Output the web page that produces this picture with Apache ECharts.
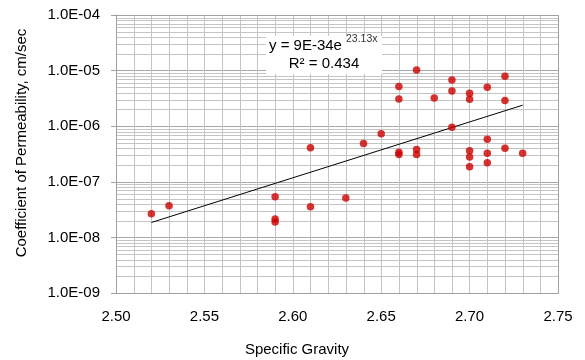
<!DOCTYPE html>
<html>
<head>
<meta charset="utf-8">
<script src="https://cdn.jsdelivr.net/npm/echarts@6/dist/echarts.min.js"></script>
<style>
  html, body { margin: 0; padding: 0; background: #fff; }
  #chart { width: 585px; height: 360px; }
</style>
</head>
<body>
<div id="chart"></div>
<script>
// Specific gravity of each sample and its measured coefficient of permeability (cm/sec)
const specificGravity = [
  2.52, 2.53,
  2.59, 2.59, 2.59,
  2.61, 2.61,
  2.63, 2.64, 2.65,
  2.66, 2.66, 2.66, 2.66,
  2.67, 2.67, 2.67,
  2.68,
  2.69, 2.69, 2.69,
  2.70, 2.70, 2.70, 2.70, 2.70,
  2.71, 2.71, 2.71, 2.71,
  2.72, 2.72, 2.72,
  2.73
];
const permeability = [
  2.65e-8, 3.7e-8,
  5.4e-8, 2.15e-8, 1.9e-8,
  3.55e-8, 4.1e-7,
  5.1e-8, 4.9e-7, 7.3e-7,
  5.2e-6, 3.1e-6, 3.4e-7, 3.1e-7,
  1.03e-5, 3.8e-7, 3.1e-7,
  3.2e-6,
  6.8e-6, 4.3e-6, 9.6e-7,
  3.9e-6, 3.05e-6, 3.6e-7, 2.8e-7, 1.87e-7,
  5.0e-6, 5.8e-7, 3.25e-7, 2.2e-7,
  7.9e-6, 2.9e-6, 4.0e-7,
  3.25e-7
];

// Exponential trendline y = A * e^(B x) and its fit statistic
const trendA = 9e-34;
const trendB = 23.13;
const trendR2 = 0.434;
const trendRange = [2.52, 2.73];

// Axis ranges: labels every 0.05, gridlines every 0.01
const xRange = [2.50, 2.75];
const xLabelStep = 0.05;
const xGridStep = 0.01;
const yRange = [1e-9, 1e-4];
// Log minor gridlines: multiples 2..9 within each decade
const minorMultiples = [2, 3, 4, 5, 6, 7, 8, 9];
const gridDecades = [-9, -8, -7, -6, -5];

const FONT = "'Liberation Sans', Arial, sans-serif";
const GRID_COLOR = '#c4c4c4';
const BORDER_COLOR = '#a0a0a0';

function sciLabel(v) {
  const e = Math.round(Math.log10(v));
  const m = v / Math.pow(10, e);
  const abs = Math.abs(e);
  return m.toFixed(1) + 'E' + (e < 0 ? '-' : '+') + (abs < 10 ? '0' + abs : '' + abs);
}
function shortExp(v) {
  const e = Math.floor(Math.log10(v));
  const m = Math.round(v / Math.pow(10, e));
  return m + 'E' + e;
}

const points = specificGravity.map((x, i) => [x, permeability[i]]);
const trendPoints = trendRange.map(x => [x, trendA * Math.exp(trendB * x)]);

// Minor gridline positions in data units
const xGridLines = [];
const xSteps = Math.round((xRange[1] - xRange[0]) / xGridStep);
for (let i = 1; i < xSteps; i++) {
  if (i % Math.round(xLabelStep / xGridStep) !== 0) {
    xGridLines.push(+(xRange[0] + i * xGridStep).toFixed(2));
  }
}
const yGridLines = [];
gridDecades.forEach(e => {
  minorMultiples.forEach(m => {
    yGridLines.push(m * Math.pow(10, e));
  });
});

// Equation box and axis titles
const labels = [
  {
    type: 'rect', z: 100,
    shape: { x: 266, y: 36, width: 116, height: 38 },
    style: { fill: '#fff' }
  },
  {
    type: 'text', z: 101, x: 269, y: 46,
    style: {
      text: 'y = ' + shortExp(trendA) + 'e',
      fontSize: 15, fontFamily: FONT, fill: '#000',
      align: 'left', verticalAlign: 'middle'
    }
  },
  {
    type: 'text', z: 101, x: 346, y: 39,
    style: {
      text: trendB.toFixed(2) + 'x',
      fontSize: 10.5, fontFamily: FONT, fill: '#333',
      align: 'left', verticalAlign: 'middle'
    }
  },
  {
    type: 'text', z: 101, x: 324, y: 64,
    style: {
      text: 'R² = ' + trendR2.toFixed(3),
      fontSize: 15, fontFamily: FONT, fill: '#000',
      align: 'center', verticalAlign: 'middle'
    }
  },
  {
    type: 'text', z: 101, x: 297, y: 350,
    style: {
      text: 'Specific Gravity',
      fontSize: 15, fontFamily: FONT, fill: '#000',
      align: 'center', verticalAlign: 'middle'
    }
  },
  {
    type: 'text', z: 101, x: 22, y: 143,
    rotation: Math.PI / 2,
    style: {
      text: 'Coefficient of Permeability, cm/sec',
      fontSize: 15, fontFamily: FONT, fill: '#000',
      align: 'center', verticalAlign: 'middle'
    }
  }
];

const chart = echarts.init(document.getElementById('chart'), null, { renderer: 'canvas' });

chart.setOption({
  animation: false,
  backgroundColor: '#fff',
  textStyle: { fontFamily: FONT },
  grid: { left: 116, right: 27, top: 15, bottom: 67, show: false },
  xAxis: {
    type: 'value',
    min: xRange[0], max: xRange[1], interval: xLabelStep,
    axisLine: { show: true, lineStyle: { color: BORDER_COLOR } },
    axisTick: { show: false },
    axisLabel: {
      fontSize: 15, color: '#000', margin: 16, fontFamily: FONT,
      formatter: v => v.toFixed(2)
    },
    splitLine: { show: true, lineStyle: { color: GRID_COLOR, width: 1 } }
  },
  yAxis: {
    type: 'log', logBase: 10,
    min: yRange[0], max: yRange[1],
    axisLine: { show: true, lineStyle: { color: BORDER_COLOR } },
    axisTick: { show: true, length: 5, lineStyle: { color: BORDER_COLOR } },
    axisLabel: {
      fontSize: 15, color: '#000', margin: 16, fontFamily: FONT,
      formatter: v => sciLabel(v)
    },
    splitLine: { show: true, lineStyle: { color: '#a8a8a8', width: 1 } }
  },
  series: [
    {
      name: 'trend',
      type: 'line',
      data: trendPoints,
      showSymbol: false,
      symbol: 'none',
      silent: true,
      z: 3,
      lineStyle: { color: '#000', width: 1 }
    },
    {
      name: 'samples',
      type: 'scatter',
      data: points,
      symbol: 'circle',
      symbolSize: 7.5,
      z: 4,
      itemStyle: { color: '#cc0000' }
    }
  ],
  graphic: labels
});

// Minor gridlines and plot frame, placed through the axes' pixel mapping
const toPx = p => chart.convertToPixel({ gridIndex: 0 }, p);
const topLeft = toPx([xRange[0], yRange[1]]);
const bottomRight = toPx([xRange[1], yRange[0]]);
const gridLines = [];
xGridLines.forEach(v => {
  const x = Math.round(toPx([v, yRange[1]])[0]) + 0.5;
  gridLines.push({
    type: 'line', z: 2, silent: true,
    shape: { x1: x, y1: topLeft[1], x2: x, y2: bottomRight[1] },
    style: { stroke: GRID_COLOR, lineWidth: 1 }
  });
});
yGridLines.forEach(v => {
  const y = Math.round(toPx([xRange[0], v])[1]) + 0.5;
  gridLines.push({
    type: 'line', z: 2, silent: true,
    shape: { x1: topLeft[0], y1: y, x2: bottomRight[0], y2: y },
    style: { stroke: GRID_COLOR, lineWidth: 1 }
  });
});
gridLines.push({
  type: 'rect', z: 2, silent: true,
  shape: {
    x: Math.round(topLeft[0]) + 0.5, y: Math.round(topLeft[1]) + 0.5,
    width: Math.round(bottomRight[0] - topLeft[0]), height: Math.round(bottomRight[1] - topLeft[1])
  },
  style: { fill: 'none', stroke: BORDER_COLOR, lineWidth: 1 }
});

chart.setOption({ graphic: labels.concat(gridLines) });
</script>
</body>
</html>
